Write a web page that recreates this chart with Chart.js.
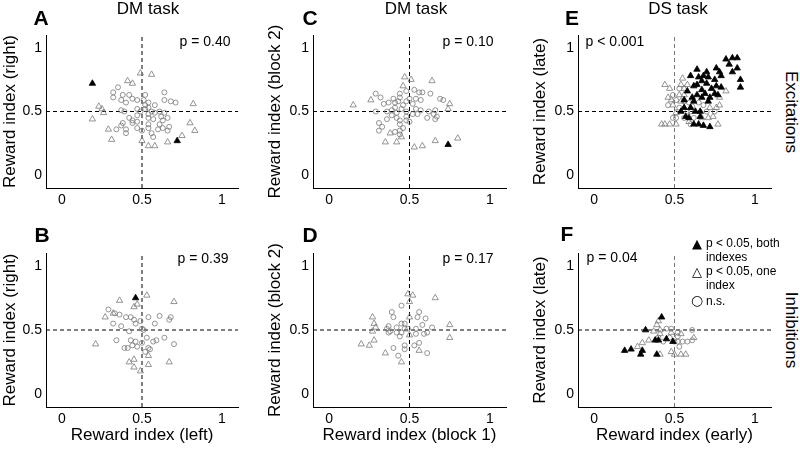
<!DOCTYPE html>
<html>
<head>
<meta charset="utf-8">
<script src="https://cdn.jsdelivr.net/npm/chart.js@4.4.1/dist/chart.umd.min.js"></script>
<style>
  html, body { margin: 0; padding: 0; background: #fff; }
  body { width: 800px; height: 449px; position: relative; overflow: hidden; font-family: 'Liberation Sans', Arial, sans-serif; color: #000; }
  canvas { position: absolute; }
  .t { position: absolute; transform: translate(-50%, -50%); white-space: nowrap; }
  .letter { font-weight: bold; font-size: 21px; }
  .title { font-size: 17px; }
  .pval { font-size: 14px; }
  .side { font-size: 17px; transform: translate(-50%, -50%) rotate(90deg); }
  .leg { position: absolute; font-size: 12px; line-height: 14px; white-space: nowrap; }
  .mk { position: absolute; font-family: 'DejaVu Sans', sans-serif; transform: translate(-50%, -50%); }
</style>
</head>
<body>
<canvas id="cA" width="260" height="220" style="left:0;top:0"></canvas>
<canvas id="cC" width="260" height="220" style="left:265px;top:0"></canvas>
<canvas id="cE" width="250" height="220" style="left:530px;top:0"></canvas>
<canvas id="cB" width="260" height="229" style="left:0;top:220px"></canvas>
<canvas id="cD" width="260" height="229" style="left:265px;top:220px"></canvas>
<canvas id="cF" width="250" height="229" style="left:530px;top:220px"></canvas>

<div class="t letter" style="left:41px;top:18px">A</div>
<div class="t letter" style="left:310px;top:18px">C</div>
<div class="t letter" style="left:572px;top:18px">E</div>
<div class="t letter" style="left:42px;top:235px">B</div>
<div class="t letter" style="left:310px;top:235px">D</div>
<div class="t letter" style="left:567px;top:234px">F</div>

<div class="t title" style="left:148px;top:9px">DM task</div>
<div class="t title" style="left:416px;top:9px">DM task</div>
<div class="t title" style="left:678px;top:9px">DS task</div>

<div class="t pval" style="left:205px;top:41px">p = 0.40</div>
<div class="t pval" style="left:468px;top:41px">p = 0.10</div>
<div class="t pval" style="left:615px;top:41px">p &lt; 0.001</div>
<div class="t pval" style="left:203px;top:258px">p = 0.39</div>
<div class="t pval" style="left:468px;top:258px">p = 0.17</div>
<div class="t pval" style="left:612px;top:257px">p = 0.04</div>

<div class="t side" style="left:791px;top:112px">Excitations</div>
<div class="t side" style="left:791px;top:330px">Inhibitions</div>

<div class="mk" style="left:697px;top:243px;font-size:13px">▲</div>
<div class="leg" style="left:706px;top:236px">p &lt; 0.05, both<br>indexes</div>
<div class="mk" style="left:697px;top:271px;font-size:13px">△</div>
<div class="leg" style="left:706px;top:264px">p &lt; 0.05, one<br>index</div>
<div class="mk" style="left:697px;top:300px;font-size:14px;font-weight:bold">○</div>
<div class="leg" style="left:706px;top:294px">n.s.</div>

<script>
// axis settings
const axisMin = -0.1;
const axisMax = 1.1;
const tickValues = [0, 0.5, 1];
const tickLabels = ['0', '0.5', '1'];

// panel A: DM task excitations, right vs left
const A_both = [[0.19,0.72],[0.72,0.27]];
const A_one = [[0.49,0.80],[0.56,0.79],[0.41,0.74],[0.44,0.72],[0.23,0.54],[0.25,0.52],[0.26,0.49],[0.19,0.44],[0.82,0.56],[0.80,0.41],[0.83,0.35],[0.75,0.31],[0.29,0.36],[0.31,0.28],[0.54,0.23],[0.58,0.23],[0.66,0.26],[0.50,0.27]];
const A_ns = [[0.35,0.69],[0.32,0.65],[0.32,0.61],[0.38,0.63],[0.42,0.63],[0.37,0.59],[0.40,0.57],[0.44,0.60],[0.47,0.59],[0.52,0.63],[0.51,0.59],[0.64,0.65],[0.64,0.59],[0.68,0.58],[0.71,0.57],[0.54,0.57],[0.58,0.55],[0.54,0.53],[0.52,0.52],[0.37,0.51],[0.39,0.50],[0.47,0.52],[0.49,0.50],[0.56,0.50],[0.58,0.49],[0.61,0.50],[0.64,0.49],[0.42,0.45],[0.44,0.43],[0.47,0.42],[0.44,0.41],[0.38,0.41],[0.37,0.39],[0.34,0.36],[0.40,0.36],[0.40,0.33],[0.47,0.37],[0.54,0.45],[0.57,0.44],[0.61,0.40],[0.63,0.43],[0.66,0.45],[0.54,0.40],[0.54,0.37],[0.60,0.36],[0.63,0.37],[0.67,0.38],[0.66,0.35],[0.56,0.33],[0.57,0.30],[0.50,0.35],[0.47,0.47],[0.54,0.48],[0.52,0.55],[0.62,0.46]];

// panel B: DM task inhibitions, right vs left
const B_both = [[0.46,0.75]];
const B_one = [[0.36,0.73],[0.53,0.77],[0.45,0.68],[0.47,0.70],[0.32,0.63],[0.27,0.60],[0.21,0.39],[0.42,0.25],[0.45,0.27],[0.45,0.21],[0.49,0.18],[0.54,0.23],[0.54,0.30],[0.70,0.72],[0.67,0.25]];
const B_ns = [[0.29,0.66],[0.33,0.63],[0.36,0.62],[0.32,0.55],[0.37,0.53],[0.40,0.60],[0.43,0.60],[0.45,0.58],[0.49,0.57],[0.46,0.55],[0.42,0.49],[0.50,0.51],[0.51,0.50],[0.34,0.42],[0.43,0.42],[0.46,0.41],[0.44,0.38],[0.39,0.36],[0.41,0.36],[0.47,0.37],[0.53,0.44],[0.54,0.60],[0.59,0.42],[0.57,0.41],[0.54,0.36],[0.52,0.33],[0.50,0.40],[0.61,0.61],[0.67,0.58],[0.68,0.60],[0.58,0.55],[0.64,0.44],[0.70,0.39],[0.55,0.35]];

// panel C: DM task excitations, block 2 vs block 1
const C_both = [[0.74,0.24]];
const C_one = [[0.47,0.77],[0.51,0.75],[0.64,0.74],[0.46,0.70],[0.26,0.59],[0.15,0.55],[0.75,0.56],[0.74,0.52],[0.80,0.29],[0.66,0.27],[0.58,0.23],[0.53,0.22],[0.42,0.26],[0.35,0.26],[0.38,0.33],[0.45,0.30]];
const C_ns = [[0.29,0.64],[0.32,0.61],[0.34,0.56],[0.37,0.57],[0.41,0.57],[0.44,0.61],[0.44,0.64],[0.48,0.66],[0.53,0.67],[0.56,0.65],[0.58,0.65],[0.63,0.64],[0.69,0.60],[0.71,0.59],[0.54,0.60],[0.57,0.59],[0.50,0.60],[0.48,0.58],[0.41,0.53],[0.39,0.51],[0.36,0.50],[0.29,0.50],[0.45,0.52],[0.48,0.50],[0.54,0.52],[0.57,0.51],[0.62,0.50],[0.66,0.51],[0.52,0.48],[0.55,0.48],[0.65,0.48],[0.67,0.46],[0.66,0.44],[0.61,0.45],[0.39,0.47],[0.42,0.45],[0.36,0.44],[0.44,0.43],[0.48,0.43],[0.50,0.42],[0.48,0.46],[0.31,0.41],[0.33,0.38],[0.31,0.35],[0.44,0.40],[0.46,0.37],[0.44,0.35],[0.41,0.34],[0.44,0.32],[0.42,0.49],[0.40,0.60],[0.43,0.58],[0.46,0.55],[0.52,0.56]];

// panel D: DM task inhibitions, block 2 vs block 1
const D_both = [];
const D_one = [[0.49,0.78],[0.52,0.77],[0.50,0.72],[0.66,0.75],[0.27,0.60],[0.28,0.55],[0.29,0.52],[0.27,0.49],[0.28,0.42],[0.20,0.39],[0.25,0.38],[0.35,0.32],[0.45,0.25],[0.56,0.34],[0.75,0.54],[0.75,0.44],[0.50,0.60],[0.50,0.46]];
const D_ns = [[0.39,0.64],[0.45,0.69],[0.56,0.64],[0.60,0.59],[0.55,0.60],[0.40,0.60],[0.47,0.55],[0.45,0.55],[0.42,0.52],[0.37,0.53],[0.36,0.51],[0.38,0.49],[0.42,0.48],[0.45,0.48],[0.47,0.51],[0.54,0.51],[0.58,0.54],[0.64,0.52],[0.61,0.48],[0.59,0.47],[0.54,0.47],[0.44,0.45],[0.49,0.51],[0.40,0.36],[0.47,0.38],[0.43,0.30],[0.47,0.35],[0.53,0.38],[0.56,0.40],[0.61,0.32],[0.37,0.48]];

// panel E: DS task excitations, late vs early
const E_both = [[0.82,0.91],[0.86,0.92],[0.89,0.92],[0.84,0.87],[0.89,0.84],[0.76,0.84],[0.78,0.81],[0.64,0.83],[0.70,0.81],[0.86,0.81],[0.60,0.78],[0.65,0.77],[0.68,0.78],[0.71,0.77],[0.79,0.78],[0.91,0.75],[0.75,0.75],[0.67,0.74],[0.70,0.72],[0.64,0.71],[0.62,0.70],[0.76,0.70],[0.79,0.69],[0.91,0.69],[0.73,0.68],[0.67,0.67],[0.58,0.66],[0.64,0.63],[0.69,0.64],[0.75,0.64],[0.77,0.63],[0.61,0.61],[0.67,0.61],[0.72,0.61],[0.56,0.59],[0.62,0.58],[0.71,0.58],[0.66,0.46],[0.62,0.40],[0.65,0.40],[0.68,0.39],[0.72,0.38],[0.59,0.45],[0.60,0.53],[0.56,0.53],[0.63,0.50],[0.66,0.50],[0.54,0.50],[0.57,0.46]];
const E_one = [[0.44,0.71],[0.47,0.68],[0.55,0.76],[0.54,0.71],[0.58,0.71],[0.56,0.68],[0.46,0.61],[0.48,0.59],[0.53,0.63],[0.56,0.63],[0.82,0.66],[0.78,0.61],[0.78,0.55],[0.76,0.53],[0.72,0.53],[0.49,0.55],[0.51,0.49],[0.71,0.45],[0.77,0.40],[0.44,0.40],[0.42,0.40],[0.47,0.40],[0.51,0.40],[0.59,0.42],[0.74,0.46],[0.67,0.45],[0.54,0.58]];
const E_ns = [[0.46,0.55],[0.49,0.45],[0.51,0.45],[0.56,0.45],[0.60,0.40],[0.62,0.45],[0.53,0.53],[0.56,0.58],[0.59,0.57],[0.51,0.59],[0.49,0.63],[0.53,0.68],[0.61,0.54],[0.68,0.55],[0.65,0.57],[0.70,0.50],[0.75,0.50],[0.58,0.50],[0.60,0.50]];

// panel F: DS task inhibitions, late vs early
const F_both = [[0.42,0.60],[0.32,0.50],[0.38,0.42],[0.40,0.42],[0.45,0.43],[0.49,0.41],[0.19,0.34],[0.23,0.35],[0.30,0.34],[0.29,0.31],[0.39,0.31]];
const F_one = [[0.39,0.54],[0.40,0.57],[0.41,0.47],[0.41,0.50],[0.27,0.37],[0.30,0.40],[0.34,0.42],[0.48,0.48],[0.54,0.47],[0.62,0.44],[0.48,0.33],[0.50,0.31],[0.54,0.31],[0.57,0.31],[0.41,0.31],[0.37,0.49]];
const F_ns = [[0.45,0.51],[0.48,0.51],[0.52,0.48],[0.52,0.45],[0.47,0.44],[0.52,0.41],[0.50,0.41],[0.55,0.41],[0.58,0.41],[0.61,0.42],[0.61,0.50],[0.53,0.37],[0.43,0.41],[0.40,0.44]];

const FONT = "'Liberation Sans', Arial, sans-serif";
const toXY = arr => arr.map(p => ({x: p[0], y: p[1]}));

function makePanel(id, both, one, ns, cfg) {
  const ctx = document.getElementById(id).getContext('2d');
  const datasets = [
    { data: toXY(both), pointStyle: 'triangle', pointRadius: 3.7, backgroundColor: '#000', borderColor: '#000', borderWidth: 0.8 },
    { data: toXY(one), pointStyle: 'triangle', pointRadius: 3.6, backgroundColor: 'rgba(0,0,0,0)', borderColor: '#7a7a7a', borderWidth: 0.8 },
    { data: toXY(ns), pointStyle: 'circle', pointRadius: 2.5, backgroundColor: 'rgba(0,0,0,0)', borderColor: '#7a7a7a', borderWidth: 0.8 },
    { data: [{x: 0.5, y: axisMin}, {x: 0.5, y: axisMax}], showLine: true, pointRadius: 0, borderColor: cfg.vColor || '#000', borderWidth: 1, borderDash: [4, 3] },
    { data: [{x: axisMin, y: 0.5}, {x: axisMax, y: 0.5}], showLine: true, pointRadius: 0, borderColor: '#000', borderWidth: 1, borderDash: [4, 3] }
  ];
  return new Chart(ctx, {
    type: 'scatter',
    data: { datasets: datasets },
    options: {
      responsive: false,
      animation: false,
      events: [],
      layout: { padding: { left: 0, top: cfg.top, right: cfg.right, bottom: 0 } },
      plugins: { legend: { display: false }, tooltip: { enabled: false } },
      scales: {
        x: {
          type: 'linear', min: axisMin, max: axisMax,
          afterBuildTicks: s => { s.ticks = tickValues.map(v => ({ value: v })); },
          afterFit: s => { s.height = cfg.xh; },
          ticks: { callback: v => tickLabels[tickValues.indexOf(v)], color: '#000', font: { family: FONT, size: 14 }, padding: 4, maxRotation: 0 },
          grid: { display: false, drawTicks: false },
          border: { display: true, color: '#000', width: 1 },
          title: { display: !!cfg.xTitle, text: cfg.xTitle || '', color: '#000', font: { family: FONT, size: 17 }, padding: { top: 0, bottom: 3 } }
        },
        y: {
          type: 'linear', min: axisMin, max: axisMax,
          afterBuildTicks: s => { s.ticks = tickValues.map(v => ({ value: v })); },
          afterFit: s => { s.width = cfg.yw; },
          ticks: { callback: v => tickLabels[tickValues.indexOf(v)], color: '#000', font: { family: FONT, size: 14 }, padding: 4 },
          grid: { display: false, drawTicks: false },
          border: { display: true, color: '#000', width: 1 },
          title: { display: true, text: cfg.yTitle, color: '#000', font: { family: FONT, size: 17 }, padding: { top: 0, bottom: 0 } }
        }
      }
    }
  });
}

makePanel('cA', A_both, A_one, A_ns, { yTitle: 'Reward index (right)', top: 35, right: 22, yw: 46, xh: 32 });
makePanel('cC', C_both, C_one, C_ns, { yTitle: 'Reward index (block 2)', top: 35, right: 19, yw: 48, xh: 32 });
makePanel('cE', E_both, E_one, E_ns, { yTitle: 'Reward index (late)', top: 35, right: 9, yw: 48, xh: 32, vColor: '#777' });
makePanel('cB', B_both, B_one, B_ns, { yTitle: 'Reward index (right)', xTitle: 'Reward index (left)', top: 33, right: 22, yw: 46, xh: 42 });
makePanel('cD', D_both, D_one, D_ns, { yTitle: 'Reward index (block 2)', xTitle: 'Reward index (block 1)', top: 33, right: 19, yw: 48, xh: 42 });
makePanel('cF', F_both, F_one, F_ns, { yTitle: 'Reward index (late)', xTitle: 'Reward index (early)', top: 33, right: 9, yw: 48, xh: 42, vColor: '#777' });
</script>
</body>
</html>
